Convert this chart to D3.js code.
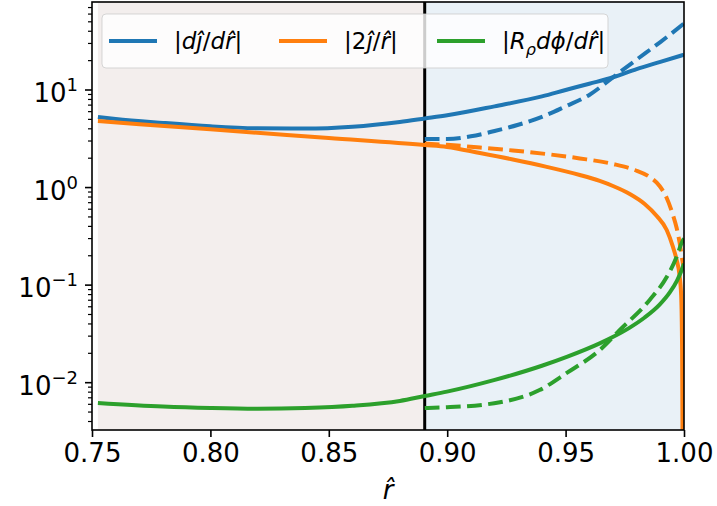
<!DOCTYPE html>
<html>
<head>
<meta charset="utf-8">
<script src="https://cdn.jsdelivr.net/npm/d3@7"></script>
<style>
body { margin: 0; background: #fff; }
text { font-family: "DejaVu Sans", sans-serif; fill: #000; }
</style>
</head>
<body>
<div id="chart"></div>
<script>
// values (x = r-hat, y = magnitude)
var rDjSolid = [0.7525, 0.76, 0.78, 0.80, 0.82, 0.84, 0.86, 0.88, 0.8905, 0.90, 0.92, 0.94, 0.95, 0.96, 0.97, 0.98, 0.99, 1.0];
var djSolid  = [5.3, 5.05, 4.6, 4.25, 4.05, 4.02, 4.2, 4.7, 5.1, 5.5, 6.8, 8.6, 10.0, 11.6, 13.5, 16.4, 19.4, 23.0];

var rDjDashed = [0.8905, 0.90, 0.91, 0.92, 0.93, 0.94, 0.95, 0.96, 0.97, 0.98, 0.99, 1.0];
var djDashed  = [3.15, 3.15, 3.35, 3.8, 4.4, 5.3, 6.8, 8.9, 13.5, 20.5, 31, 48];

var rTwoJSolid = [0.7525, 0.80, 0.85, 0.8905, 0.8999, 0.9138, 0.9277, 0.9416, 0.956, 0.9644, 0.970, 0.9771, 0.9834, 0.9885, 0.9927, 0.9952, 0.9969, 0.9981, 0.9988, 0.9992, 0.9994];
var twoJSolid  = [4.8, 3.95, 3.22, 2.73, 2.61, 2.26, 1.94, 1.64, 1.345, 1.168, 1.037, 0.859, 0.679, 0.511, 0.367, 0.252, 0.181, 0.127, 0.079, 0.0216, 0.002];

var rTwoJDashed = [0.8905, 0.8999, 0.9138, 0.9277, 0.9416, 0.956, 0.970, 0.9792, 0.9855, 0.9897, 0.9927, 0.9952, 0.9969, 0.9981, 0.999, 1.0];
var twoJDashed  = [2.82, 2.74, 2.575, 2.40, 2.21, 1.99, 1.745, 1.514, 1.283, 1.037, 0.782, 0.536, 0.385, 0.277, 0.199, 0.143];

var rPhiSolid = [0.7525, 0.78, 0.80, 0.82, 0.84, 0.86, 0.88, 0.8905, 0.8999, 0.9197, 0.94, 0.9505, 0.9644, 0.9699, 0.9771, 0.9834, 0.9898, 0.994, 0.997, 0.9987, 1.0];
var phiSolid  = [0.0062, 0.0057, 0.0055, 0.0054, 0.0055, 0.0058, 0.0065, 0.0073, 0.00809, 0.01061, 0.01491, 0.01839, 0.02529, 0.02934, 0.03671, 0.0466, 0.06348, 0.0842, 0.1108, 0.1364, 0.1655];

var rPhiDashed = [0.8905, 0.90, 0.9223, 0.939, 0.9505, 0.9644, 0.9729, 0.9855, 0.9927, 0.9969, 0.999, 1.0];
var phiDashed  = [0.0055, 0.0056, 0.0063, 0.0084, 0.0126, 0.0216, 0.0347, 0.0705, 0.121, 0.195, 0.27, 0.3];

// shaded regions and the boundary
var regionEdges = [0.7525, 0.8905, 1.0];
var boundary = 0.8905;

var xTicks = [0.75, 0.80, 0.85, 0.90, 0.95, 1.00];
var yTickExps = [-2, -1, 0, 1];

var series = [
	{ r: rDjSolid, v: djSolid, color: "#1f77b4", dashed: false },
	{ r: rDjDashed, v: djDashed, color: "#1f77b4", dashed: true },
	{ r: rTwoJSolid, v: twoJSolid, color: "#ff7f0e", dashed: false },
	{ r: rTwoJDashed, v: twoJDashed, color: "#ff7f0e", dashed: true },
	{ r: rPhiSolid, v: phiSolid, color: "#2ca02c", dashed: false },
	{ r: rPhiDashed, v: phiDashed, color: "#2ca02c", dashed: true }
];

// legend labels as [text, italic, shift] pieces
var legendItems = [
	{ color: "#1f77b4", parts: [["|", 0], ["d", 1], ["\u0135", 1], ["/", 0], ["d", 1], ["r\u0302", 1], ["|", 0]] },
	{ color: "#ff7f0e", parts: [["|2", 0], ["\u0135", 1], ["/", 0], ["r\u0302", 1], ["|", 0]] },
	{ color: "#2ca02c", parts: [["|", 0], ["R", 1], ["\u03c1", 1, "sub"], ["d\u03d5", 1], ["/", 0], ["d", 1], ["r\u0302", 1], ["|", 0]] }
];

var margin = { top: 2, right: 33, bottom: 76, left: 92 };
var width = 717 - margin.left - margin.right,
	height = 506 - margin.top - margin.bottom;

var svg = d3.select("#chart").append("svg")
	.attr("width", 717)
	.attr("height", 506)
	.append("g")
	.attr("transform", "translate(" + margin.left + "," + margin.top + ")");

// scales
var x = d3.scaleLinear().domain([0.75, 1.0]).range([0, width]);
var y = d3.scaleLog().domain([Math.pow(10, -2.485), Math.pow(10, 1.902)]).range([height, 0]);

svg.append("clipPath").attr("id", "plot-clip")
	.append("rect").attr("width", width).attr("height", height);

// background regions
var regionColors = ["#f3eeed", "#e9f1f7"];
svg.selectAll(".region").data(d3.pairs(regionEdges)).enter().append("rect")
	.attr("class", "region")
	.attr("x", d => x(d[0]))
	.attr("width", d => x(d[1]) - x(d[0]))
	.attr("y", 0)
	.attr("height", height)
	.attr("fill", (d, i) => regionColors[i]);

svg.append("line")
	.attr("x1", x(boundary)).attr("x2", x(boundary))
	.attr("y1", 0).attr("y2", height)
	.attr("stroke", "#000")
	.attr("stroke-width", 3);

// lines
var line = d3.line()
	.x(d => x(d[0]))
	.y(d => y(d[1]))
	.curve(d3.curveMonotoneX);

svg.append("g").attr("clip-path", "url(#plot-clip)")
	.selectAll("path").data(series).enter().append("path")
	.attr("d", s => line(d3.zip(s.r, s.v)))
	.attr("fill", "none")
	.attr("stroke", s => s.color)
	.attr("stroke-width", 4)
	.attr("stroke-dasharray", s => s.dashed ? "14.8,6.4" : null);

// axes
var xAxis = d3.axisBottom(x).tickValues(xTicks).tickFormat(d3.format(".2f"))
	.tickSize(7).tickPadding(7);
var xAxisGroup = svg.append("g")
	.attr("transform", "translate(0," + height + ")")
	.call(xAxis);
xAxisGroup.selectAll("text").style("font-size", "26px").attr("dy", "0.71em");

var minorTicks = [];
for (var e = -3; e <= 1; e++) {
	for (var m = 2; m <= 9; m++) {
		var v = m * Math.pow(10, e);
		if (v >= y.domain()[0] && v <= y.domain()[1]) minorTicks.push(v);
	}
}
svg.append("g").selectAll("line").data(minorTicks).enter().append("line")
	.attr("x1", -4).attr("x2", 0)
	.attr("y1", d => y(d)).attr("y2", d => y(d))
	.attr("stroke", "#000").attr("stroke-width", 1.2);

var yAxisGroup = svg.append("g");
yAxisGroup.selectAll("line").data(yTickExps).enter().append("line")
	.attr("x1", -7).attr("x2", 0)
	.attr("y1", d => y(Math.pow(10, d))).attr("y2", d => y(Math.pow(10, d)))
	.attr("stroke", "#000").attr("stroke-width", 1.6);

var yLabels = yAxisGroup.selectAll("text").data(yTickExps).enter().append("text")
	.attr("x", -14)
	.attr("y", d => y(Math.pow(10, d)) + 12)
	.attr("text-anchor", "end")
	.style("font-size", "26px");
yLabels.append("tspan").text("10");
yLabels.append("tspan")
	.attr("dy", -11)
	.style("font-size", "18px")
	.text(d => d < 0 ? "\u2212" + (-d) : String(d));

xAxisGroup.selectAll(".tick line").attr("stroke-width", 1.6);
xAxisGroup.select(".domain").remove();

// spines
svg.append("rect")
	.attr("width", width).attr("height", height)
	.attr("fill", "none")
	.attr("stroke", "#000")
	.attr("stroke-width", 1.6);

// axis label
svg.append("text")
	.attr("x", width / 2)
	.attr("y", height + 69)
	.attr("text-anchor", "middle")
	.style("font-size", "26px")
	.style("font-style", "italic")
	.text("r\u0302");

// legend
var legend = svg.append("g").attr("transform", "translate(10,12)");
legend.append("rect")
	.attr("width", 506).attr("height", 54)
	.attr("rx", 4)
	.attr("fill", "#fff").attr("fill-opacity", 0.8)
	.attr("stroke", "#ccc").attr("stroke-opacity", 0.8);

var legendX = [7, 177, 335];
legendItems.forEach(function(item, i) {
	var g = legend.append("g").attr("transform", "translate(" + legendX[i] + ",27)");
	g.append("line")
		.attr("x1", 0).attr("x2", 48)
		.attr("stroke", item.color).attr("stroke-width", 4);
	var t = g.append("text")
		.attr("x", 65).attr("y", 8)
		.style("font-size", "23px");
	var afterSub = false;
	item.parts.forEach(function(p) {
		var ts = t.append("tspan")
			.style("font-style", p[1] ? "italic" : "normal")
			.text(p[0]);
		if (p[2] == "sub") {
			ts.attr("dy", 6).style("font-size", "16px");
		} else if (afterSub) {
			ts.attr("dy", -6);
		}
		afterSub = p[2] == "sub";
	});
});
</script>
</body>
</html>
